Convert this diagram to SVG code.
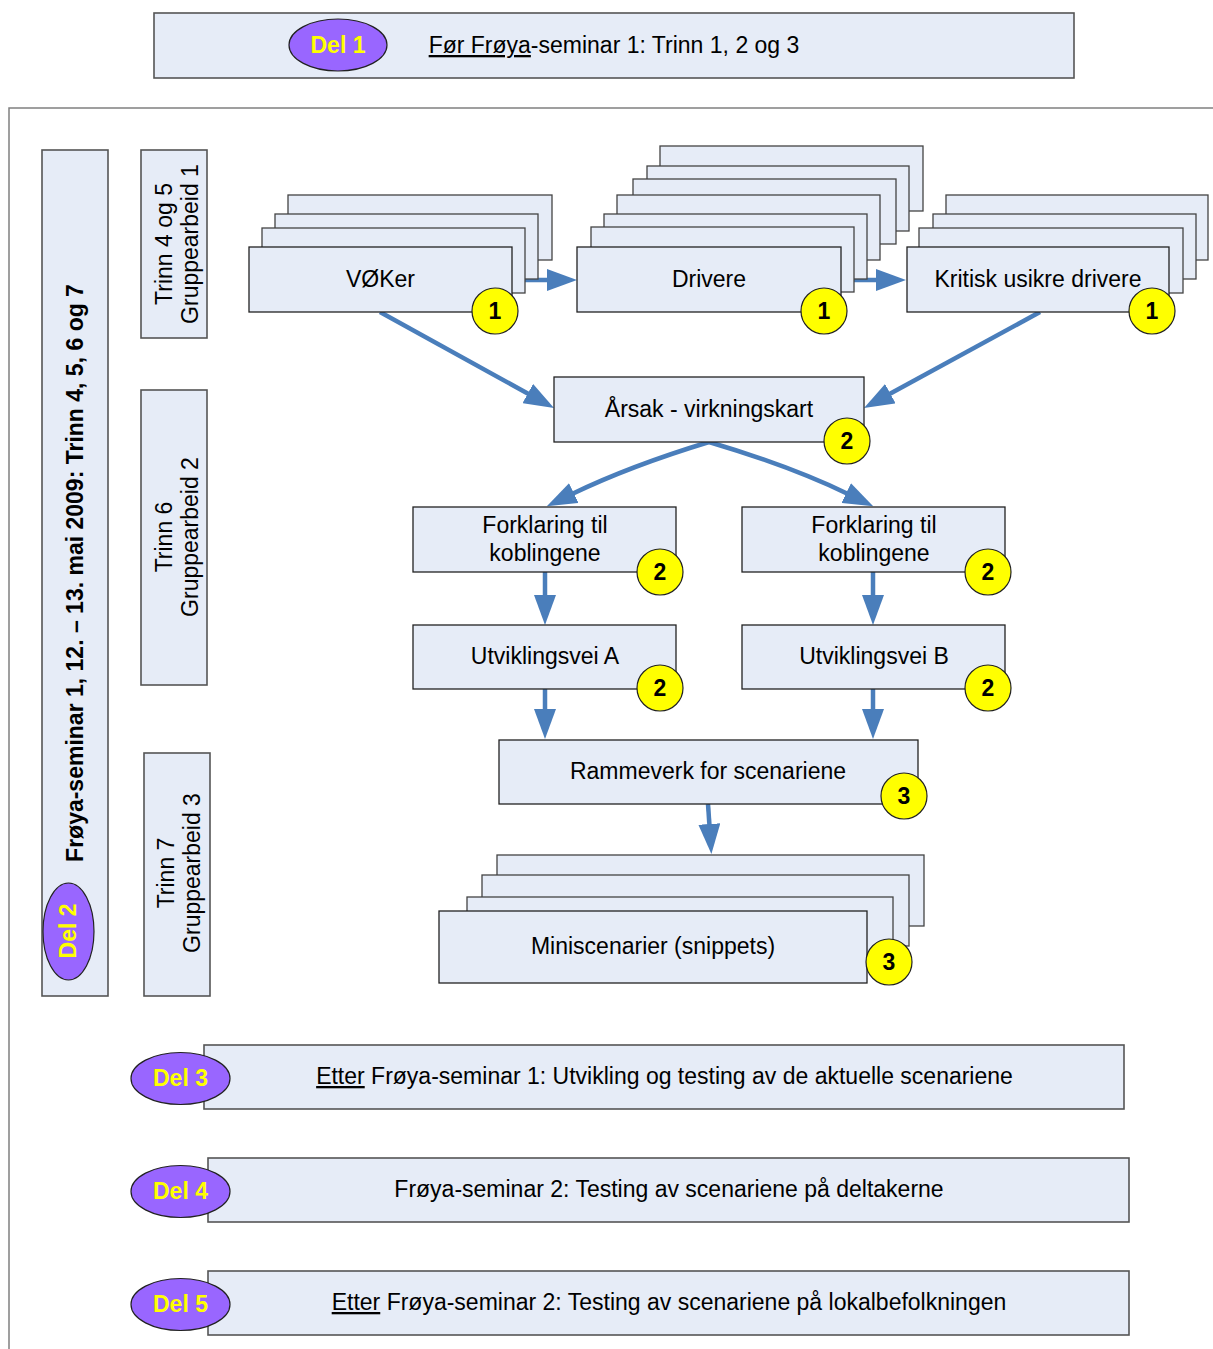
<svg xmlns="http://www.w3.org/2000/svg" width="1213" height="1349" viewBox="0 0 1213 1349">
<style>
text{font-family:"Liberation Sans",Arial,sans-serif;font-size:23px;fill:#000}
.box{fill:#e6ecf7;stroke:#222;stroke-width:1.3}
.bk{fill:#e6ecf7;stroke:#444;stroke-width:1.3}
.ban{fill:#e6ecf7;stroke:#555;stroke-width:1.6}
.del{fill:#9966ff;stroke:#222;stroke-width:1.2}
.dt{font-weight:bold;fill:#ffff00;text-anchor:middle}
.num{fill:#ffff00;stroke:#222;stroke-width:1.2}
.nt{font-weight:bold;text-anchor:middle}
.c{text-anchor:middle}
.u{text-decoration:underline}
.arr{fill:none;stroke:#4a7ebb;stroke-width:4.5;marker-end:url(#ah)}
</style>
<defs>
<marker id="ah" markerUnits="userSpaceOnUse" markerWidth="30" markerHeight="22" refX="2" refY="11" orient="auto">
<path d="M0,0 L30,11 L0,22 z" fill="#4a7ebb"/>
</marker>
</defs>
<rect width="1213" height="1349" fill="#fff"/>

<g id="del1">
<rect class="ban" x="154" y="13" width="920" height="65"/>
<ellipse class="del" cx="338" cy="45" rx="49" ry="26"/>
<text class="dt" x="338" y="53">Del 1</text>
<text class="c" x="614" y="53"><tspan class="u">Før Frøya</tspan>-seminar 1: Trinn 1, 2 og 3</text>
</g>

<g id="frame">
<path d="M9,1349 V108 H1213" fill="none" stroke="#808080" stroke-width="1.5"/>
</g>

<g id="del2">
<rect class="ban" x="42" y="150" width="66" height="846"/>
<text style="font-weight:bold" class="c" transform="translate(75,573) rotate(-90)" y="8">Frøya-seminar 1, 12. – 13. mai 2009: Trinn 4, 5, 6 og 7</text>
<ellipse class="del" cx="68.5" cy="931.5" rx="25.5" ry="48.5"/>
<text class="dt" transform="translate(68,931) rotate(-90)" y="8">Del 2</text>
</g>

<g id="trinn45">
<rect class="ban" x="141" y="150" width="66" height="188"/>
<text class="c" transform="translate(174,244) rotate(-90)"><tspan x="0" y="-2">Trinn 4 og 5</tspan><tspan x="0" y="24">Gruppearbeid 1</tspan></text>
</g>
<g id="trinn6">
<rect class="ban" x="141" y="390" width="66" height="295"/>
<text class="c" transform="translate(174,537) rotate(-90)"><tspan x="0" y="-2">Trinn 6</tspan><tspan x="0" y="24">Gruppearbeid 2</tspan></text>
</g>
<g id="trinn7">
<rect class="ban" x="144" y="753" width="66" height="243"/>
<text class="c" transform="translate(176,873) rotate(-90)"><tspan x="0" y="-2">Trinn 7</tspan><tspan x="0" y="24">Gruppearbeid 3</tspan></text>
</g>

<g id="connectors">
<path class="arr" d="M512,280 H549"/>
<path class="arr" d="M841,280 H878"/>
<path class="arr" d="M380,312 L529.5,394.5"/>
<path class="arr" d="M1040,312 L888.6,394.6"/>
<path class="arr" d="M709,442 Q630,466 572,494"/>
<path class="arr" d="M709,442 Q790,466 848,494"/>
<path class="arr" d="M545,572 V597"/>
<path class="arr" d="M873,572 V597"/>
<path class="arr" d="M545,689 V711"/>
<path class="arr" d="M873,689 V711"/>
<path class="arr" d="M708,804 L709.5,826"/>
</g>

<g id="voker">
<rect class="bk" x="288" y="195" width="264" height="65"/>
<rect class="bk" x="275" y="214" width="263" height="65"/>
<rect class="bk" x="262" y="228" width="263" height="65"/>
<rect class="box" x="249" y="247" width="263" height="65"/>
<text class="c" x="380.5" y="287">VØKer</text>
<circle class="num" cx="495" cy="311" r="23"/>
<text class="nt" x="495" y="319">1</text>
</g>

<g id="drivere">
<rect class="bk" x="660" y="146" width="263" height="65"/>
<rect class="bk" x="647" y="166" width="262" height="65"/>
<rect class="bk" x="633" y="179" width="263" height="65"/>
<rect class="bk" x="617" y="195" width="263" height="65"/>
<rect class="bk" x="604" y="214" width="263" height="65"/>
<rect class="bk" x="591" y="227" width="263" height="65"/>
<rect class="box" x="577" y="247" width="264" height="65"/>
<text class="c" x="709" y="287">Drivere</text>
<circle class="num" cx="824" cy="311" r="23"/>
<text class="nt" x="824" y="319">1</text>
</g>

<g id="kritisk">
<rect class="bk" x="946" y="195" width="262" height="65"/>
<rect class="bk" x="933" y="214" width="263" height="65"/>
<rect class="bk" x="919" y="228" width="264" height="65"/>
<rect class="box" x="907" y="247" width="262" height="65"/>
<text class="c" x="1038" y="287">Kritisk usikre drivere</text>
<circle class="num" cx="1152" cy="311" r="23"/>
<text class="nt" x="1152" y="319">1</text>
</g>

<g id="arsak">
<rect class="box" x="554" y="377" width="310" height="65"/>
<text class="c" x="709" y="417">Årsak - virkningskart</text>
<circle class="num" cx="847" cy="441" r="23"/>
<text class="nt" x="847" y="449">2</text>
</g>

<g id="forklaringA">
<rect class="box" x="413" y="507" width="263" height="65"/>
<text class="c" x="545" y="533">Forklaring til</text>
<text class="c" x="545" y="561">koblingene</text>
<circle class="num" cx="660" cy="572" r="23"/>
<text class="nt" x="660" y="580">2</text>
</g>

<g id="forklaringB">
<rect class="box" x="742" y="507" width="263" height="65"/>
<text class="c" x="874" y="533">Forklaring til</text>
<text class="c" x="874" y="561">koblingene</text>
<circle class="num" cx="988" cy="572" r="23"/>
<text class="nt" x="988" y="580">2</text>
</g>

<g id="utviklingA">
<rect class="box" x="413" y="625" width="263" height="64"/>
<text class="c" x="545" y="664">Utviklingsvei A</text>
<circle class="num" cx="660" cy="688" r="23"/>
<text class="nt" x="660" y="696">2</text>
</g>

<g id="utviklingB">
<rect class="box" x="742" y="625" width="263" height="64"/>
<text class="c" x="874" y="664">Utviklingsvei B</text>
<circle class="num" cx="988" cy="688" r="23"/>
<text class="nt" x="988" y="696">2</text>
</g>

<g id="rammeverk">
<rect class="box" x="499" y="740" width="419" height="64"/>
<text class="c" x="708" y="779">Rammeverk for scenariene</text>
<circle class="num" cx="904" cy="796" r="23"/>
<text class="nt" x="904" y="804">3</text>
</g>

<g id="miniscenarier">
<rect class="bk" x="497" y="855" width="427" height="71"/>
<rect class="bk" x="482" y="875" width="427" height="71"/>
<rect class="bk" x="467" y="897" width="426" height="71"/>
<rect class="box" x="439" y="911" width="428" height="72"/>
<text class="c" x="653" y="954">Miniscenarier (snippets)</text>
<circle class="num" cx="889" cy="962" r="23"/>
<text class="nt" x="889" y="970">3</text>
</g>

<g id="del3">
<rect class="ban" x="204" y="1045" width="920" height="64"/>
<ellipse class="del" cx="180.5" cy="1078.5" rx="49.5" ry="26"/>
<text class="dt" x="180.5" y="1086">Del 3</text>
<text class="c" x="664.5" y="1084"><tspan class="u">Etter</tspan> Frøya-seminar 1: Utvikling og testing av de aktuelle scenariene</text>
</g>

<g id="del4">
<rect class="ban" x="208" y="1158" width="921" height="64"/>
<ellipse class="del" cx="180.5" cy="1191.5" rx="49.5" ry="26"/>
<text class="dt" x="180.5" y="1199">Del 4</text>
<text class="c" x="669" y="1197">Frøya-seminar 2: Testing av scenariene på deltakerne</text>
</g>

<g id="del5">
<rect class="ban" x="208" y="1271" width="921" height="64"/>
<ellipse class="del" cx="180.5" cy="1304.5" rx="49.5" ry="26"/>
<text class="dt" x="180.5" y="1312">Del 5</text>
<text class="c" x="669" y="1310"><tspan class="u">Etter</tspan> Frøya-seminar 2: Testing av scenariene på lokalbefolkningen</text>
</g>
</svg>
